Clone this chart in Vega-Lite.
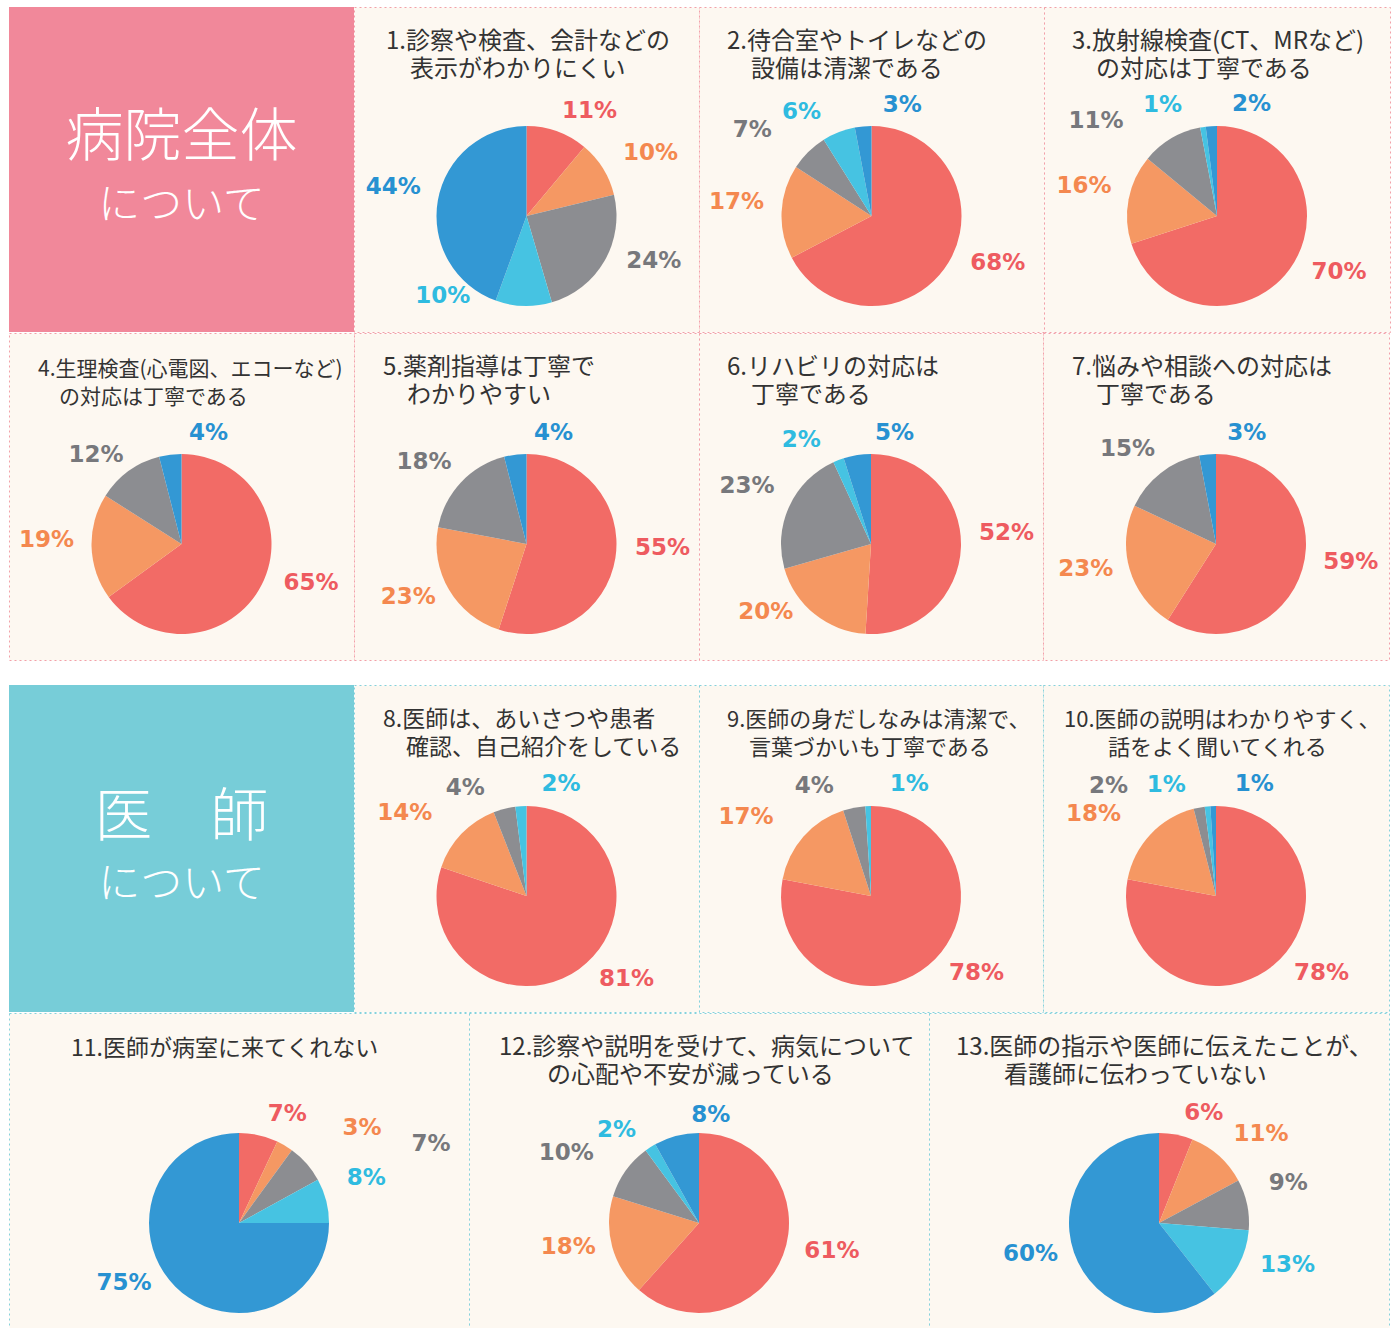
{
"$schema": "https://vega.github.io/schema/vega-lite/v6.json",
"background": "#ffffff",
"padding": {"left": 8, "top": 6, "right": 0, "bottom": 0},
"spacing": -2,
"config": {
  "view": {"stroke": null},
  "concat": {"spacing": 0},
  "range": {"category": ["#f26b66", "#f59863", "#8c8d91", "#46c3e2", "#3398d4"]},
  "title": {"font": "Noto Sans CJK JP", "fontSize": 24, "fontWeight": "normal", "color": "#333333", "anchor": "start", "frame": "group", "baseline": "top", "lineHeight": 28, "offset": -75},
  "text": {"font": "DejaVu Sans", "fontSize": 23, "fontWeight": "bold", "align": "center", "baseline": "middle"}
},
"datasets": {
  "pies": [
    {"q": 1, "cat": "A", "v": 0.11}, {"q": 1, "cat": "B", "v": 0.10}, {"q": 1, "cat": "C", "v": 0.24}, {"q": 1, "cat": "D", "v": 0.10}, {"q": 1, "cat": "E", "v": 0.44},
    {"q": 2, "cat": "A", "v": 0.68}, {"q": 2, "cat": "B", "v": 0.17}, {"q": 2, "cat": "C", "v": 0.07}, {"q": 2, "cat": "D", "v": 0.06}, {"q": 2, "cat": "E", "v": 0.03},
    {"q": 3, "cat": "A", "v": 0.70}, {"q": 3, "cat": "B", "v": 0.16}, {"q": 3, "cat": "C", "v": 0.11}, {"q": 3, "cat": "D", "v": 0.01}, {"q": 3, "cat": "E", "v": 0.02},
    {"q": 4, "cat": "A", "v": 0.65}, {"q": 4, "cat": "B", "v": 0.19}, {"q": 4, "cat": "C", "v": 0.12}, {"q": 4, "cat": "E", "v": 0.04},
    {"q": 5, "cat": "A", "v": 0.55}, {"q": 5, "cat": "B", "v": 0.23}, {"q": 5, "cat": "C", "v": 0.18}, {"q": 5, "cat": "E", "v": 0.04},
    {"q": 6, "cat": "A", "v": 0.52}, {"q": 6, "cat": "B", "v": 0.20}, {"q": 6, "cat": "C", "v": 0.23}, {"q": 6, "cat": "D", "v": 0.02}, {"q": 6, "cat": "E", "v": 0.05},
    {"q": 7, "cat": "A", "v": 0.59}, {"q": 7, "cat": "B", "v": 0.23}, {"q": 7, "cat": "C", "v": 0.15}, {"q": 7, "cat": "E", "v": 0.03},
    {"q": 8, "cat": "A", "v": 0.81}, {"q": 8, "cat": "B", "v": 0.14}, {"q": 8, "cat": "C", "v": 0.04}, {"q": 8, "cat": "D", "v": 0.02},
    {"q": 9, "cat": "A", "v": 0.78}, {"q": 9, "cat": "B", "v": 0.17}, {"q": 9, "cat": "C", "v": 0.04}, {"q": 9, "cat": "D", "v": 0.01},
    {"q": 10, "cat": "A", "v": 0.78}, {"q": 10, "cat": "B", "v": 0.18}, {"q": 10, "cat": "C", "v": 0.02}, {"q": 10, "cat": "D", "v": 0.01}, {"q": 10, "cat": "E", "v": 0.01},
    {"q": 11, "cat": "A", "v": 0.07}, {"q": 11, "cat": "B", "v": 0.03}, {"q": 11, "cat": "C", "v": 0.07}, {"q": 11, "cat": "D", "v": 0.08}, {"q": 11, "cat": "E", "v": 0.75},
    {"q": 12, "cat": "A", "v": 0.61}, {"q": 12, "cat": "B", "v": 0.18}, {"q": 12, "cat": "C", "v": 0.10}, {"q": 12, "cat": "D", "v": 0.02}, {"q": 12, "cat": "E", "v": 0.08},
    {"q": 13, "cat": "A", "v": 0.06}, {"q": 13, "cat": "B", "v": 0.11}, {"q": 13, "cat": "C", "v": 0.09}, {"q": 13, "cat": "D", "v": 0.13}, {"q": 13, "cat": "E", "v": 0.60}
  ]
},
"vconcat": [
  {"bounds": "flush", "hconcat": [
    {"width": 345, "height": 325, "view": {"fill": "#f1889a", "stroke": null},
     "data": {"values": [{"head": "病院全体", "sub": "について"}]},
     "layer": [
       {"mark": {"type": "text", "font": "Noto Sans CJK JP", "fontWeight": 300, "fontSize": 58, "color": "#ffffff", "dy": -31}, "encoding": {"text": {"field": "head"}}},
       {"mark": {"type": "text", "font": "Noto Sans CJK JP", "fontWeight": 300, "fontSize": 42, "color": "#ffffff", "dy": 36}, "encoding": {"text": {"field": "sub"}}}
     ]},
    {"width": 345, "height": 325, "view": {"fill": "#fdf8f1", "stroke": "#f2a0a9", "strokeDash": [2, 3]},
     "title": {"text": ["1.診察や検査、会計などの", "\u200b　表示がわかりにくい"], "dx": 32},
     "data": {"name": "pies"},
     "transform": [{"filter": "datum.q == 1"}, {"window": [{"op": "sum", "field": "v", "as": "cum"}, {"op": "row_number", "as": "idx"}], "sort": [{"field": "cat", "order": "ascending"}]}, {"joinaggregate": [{"op": "sum", "field": "v", "as": "tot"}, {"op": "count", "field": "v", "as": "n"}]}],
     "encoding": {"theta": {"field": "v", "type": "quantitative", "stack": true}, "order": {"field": "cat", "type": "nominal", "sort": "ascending"}, "color": {"field": "cat", "type": "nominal", "legend": null, "scale": {"domain": ["A", "B", "C", "D", "E"]}}},
     "resolve": {"scale": {"color": "independent"}},
     "layer": [
       {"mark": {"type": "arc", "outerRadius": 90, "yOffset": 46.5}},
       {"mark": {"type": "text", "radius": 120, "yOffset": 46.5,
          "dx": {"expr": "datum.idx==datum.n && (datum.cum-datum.v/2)/datum.tot>0.9 ? 42 : datum.idx==datum.n-2 && (datum.cum-datum.v/2)/datum.tot>0.95 ? -85 : datum.idx==datum.n-2 && (datum.cum-datum.v/2)/datum.tot>0.9 ? -60 : datum.idx==datum.n-1 && (datum.cum-datum.v/2)/datum.tot>0.84 ? -15-max(0,(datum.cum-datum.v/2)/datum.tot-0.9)*275 : (datum.cum-datum.v/2)/datum.tot>0.84 ? -35 : abs((datum.cum-datum.v/2)/datum.tot-0.5)<0.05 ? -80 : (datum.cum-datum.v/2)/datum.tot<0.2 ? (datum.v<0.09 ? 22+40*(datum.idx-1) : 22) : (datum.cum-datum.v/2)/datum.tot<0.45 ? 20+100*((datum.cum-datum.v/2)/datum.tot-0.3) : (datum.cum-datum.v/2)/datum.tot<0.65 ? -30 : -15"},
          "dy": {"expr": "abs((datum.cum-datum.v/2)/datum.tot-0.5)<0.05 ? -40 : ((datum.cum-datum.v/2)/datum.tot>0.9 || (datum.cum-datum.v/2)/datum.tot<0.1) ? 8 : ((datum.cum-datum.v/2)/datum.tot>0.2 && (datum.cum-datum.v/2)/datum.tot<0.45) ? -15 : ((datum.cum-datum.v/2)/datum.tot>0.55 && (datum.cum-datum.v/2)/datum.tot<0.65) ? -25 : ((datum.cum-datum.v/2)/datum.tot>=0.65 && (datum.cum-datum.v/2)/datum.tot<0.84) ? -8 : 0"}},
        "encoding": {"text": {"field": "v", "format": ".0%"}, "color": {"field": "cat", "type": "nominal", "legend": null, "scale": {"domain": ["A", "B", "C", "D", "E"], "range": ["#ee5b60", "#f4884f", "#77787c", "#2fbbe0", "#2791d1"]}}}}
     ]},
    {"width": 345, "height": 325, "view": {"fill": "#fdf8f1", "stroke": "#f2a0a9", "strokeDash": [2, 3]},
     "title": {"text": ["2.待合室やトイレなどの", "\u200b　設備は清潔である"], "dx": 28},
     "data": {"name": "pies"},
     "transform": [{"filter": "datum.q == 2"}, {"window": [{"op": "sum", "field": "v", "as": "cum"}, {"op": "row_number", "as": "idx"}], "sort": [{"field": "cat", "order": "ascending"}]}, {"joinaggregate": [{"op": "sum", "field": "v", "as": "tot"}, {"op": "count", "field": "v", "as": "n"}]}],
     "encoding": {"theta": {"field": "v", "type": "quantitative", "stack": true}, "order": {"field": "cat", "type": "nominal", "sort": "ascending"}, "color": {"field": "cat", "type": "nominal", "legend": null, "scale": {"domain": ["A", "B", "C", "D", "E"]}}},
     "resolve": {"scale": {"color": "independent"}},
     "layer": [
       {"mark": {"type": "arc", "outerRadius": 90, "yOffset": 46.5}},
       {"mark": {"type": "text", "radius": 120, "yOffset": 46.5,
          "dx": {"expr": "datum.idx==datum.n && (datum.cum-datum.v/2)/datum.tot>0.9 ? 42 : datum.idx==datum.n-2 && (datum.cum-datum.v/2)/datum.tot>0.95 ? -85 : datum.idx==datum.n-2 && (datum.cum-datum.v/2)/datum.tot>0.9 ? -60 : datum.idx==datum.n-1 && (datum.cum-datum.v/2)/datum.tot>0.84 ? -15-max(0,(datum.cum-datum.v/2)/datum.tot-0.9)*275 : (datum.cum-datum.v/2)/datum.tot>0.84 ? -35 : abs((datum.cum-datum.v/2)/datum.tot-0.5)<0.05 ? -80 : (datum.cum-datum.v/2)/datum.tot<0.2 ? (datum.v<0.09 ? 22+40*(datum.idx-1) : 22) : (datum.cum-datum.v/2)/datum.tot<0.45 ? 20+100*((datum.cum-datum.v/2)/datum.tot-0.3) : (datum.cum-datum.v/2)/datum.tot<0.65 ? -30 : -15"},
          "dy": {"expr": "abs((datum.cum-datum.v/2)/datum.tot-0.5)<0.05 ? -40 : ((datum.cum-datum.v/2)/datum.tot>0.9 || (datum.cum-datum.v/2)/datum.tot<0.1) ? 8 : ((datum.cum-datum.v/2)/datum.tot>0.2 && (datum.cum-datum.v/2)/datum.tot<0.45) ? -15 : ((datum.cum-datum.v/2)/datum.tot>0.55 && (datum.cum-datum.v/2)/datum.tot<0.65) ? -25 : ((datum.cum-datum.v/2)/datum.tot>=0.65 && (datum.cum-datum.v/2)/datum.tot<0.84) ? -8 : 0"}},
        "encoding": {"text": {"field": "v", "format": ".0%"}, "color": {"field": "cat", "type": "nominal", "legend": null, "scale": {"domain": ["A", "B", "C", "D", "E"], "range": ["#ee5b60", "#f4884f", "#77787c", "#2fbbe0", "#2791d1"]}}}}
     ]},
    {"width": 346, "height": 325, "view": {"fill": "#fdf8f1", "stroke": "#f2a0a9", "strokeDash": [2, 3]},
     "title": {"text": ["3.放射線検査(CT、MRなど)", "\u200b　の対応は丁寧である"], "dx": 28},
     "data": {"name": "pies"},
     "transform": [{"filter": "datum.q == 3"}, {"window": [{"op": "sum", "field": "v", "as": "cum"}, {"op": "row_number", "as": "idx"}], "sort": [{"field": "cat", "order": "ascending"}]}, {"joinaggregate": [{"op": "sum", "field": "v", "as": "tot"}, {"op": "count", "field": "v", "as": "n"}]}],
     "encoding": {"theta": {"field": "v", "type": "quantitative", "stack": true}, "order": {"field": "cat", "type": "nominal", "sort": "ascending"}, "color": {"field": "cat", "type": "nominal", "legend": null, "scale": {"domain": ["A", "B", "C", "D", "E"]}}},
     "resolve": {"scale": {"color": "independent"}},
     "layer": [
       {"mark": {"type": "arc", "outerRadius": 90, "yOffset": 46.5}},
       {"mark": {"type": "text", "radius": 120, "yOffset": 46.5,
          "dx": {"expr": "datum.idx==datum.n && (datum.cum-datum.v/2)/datum.tot>0.9 ? 42 : datum.idx==datum.n-2 && (datum.cum-datum.v/2)/datum.tot>0.95 ? -85 : datum.idx==datum.n-2 && (datum.cum-datum.v/2)/datum.tot>0.9 ? -60 : datum.idx==datum.n-1 && (datum.cum-datum.v/2)/datum.tot>0.84 ? -15-max(0,(datum.cum-datum.v/2)/datum.tot-0.9)*275 : (datum.cum-datum.v/2)/datum.tot>0.84 ? -35 : abs((datum.cum-datum.v/2)/datum.tot-0.5)<0.05 ? -80 : (datum.cum-datum.v/2)/datum.tot<0.2 ? (datum.v<0.09 ? 22+40*(datum.idx-1) : 22) : (datum.cum-datum.v/2)/datum.tot<0.45 ? 20+100*((datum.cum-datum.v/2)/datum.tot-0.3) : (datum.cum-datum.v/2)/datum.tot<0.65 ? -30 : -15"},
          "dy": {"expr": "abs((datum.cum-datum.v/2)/datum.tot-0.5)<0.05 ? -40 : ((datum.cum-datum.v/2)/datum.tot>0.9 || (datum.cum-datum.v/2)/datum.tot<0.1) ? 8 : ((datum.cum-datum.v/2)/datum.tot>0.2 && (datum.cum-datum.v/2)/datum.tot<0.45) ? -15 : ((datum.cum-datum.v/2)/datum.tot>0.55 && (datum.cum-datum.v/2)/datum.tot<0.65) ? -25 : ((datum.cum-datum.v/2)/datum.tot>=0.65 && (datum.cum-datum.v/2)/datum.tot<0.84) ? -8 : 0"}},
        "encoding": {"text": {"field": "v", "format": ".0%"}, "color": {"field": "cat", "type": "nominal", "legend": null, "scale": {"domain": ["A", "B", "C", "D", "E"], "range": ["#ee5b60", "#f4884f", "#77787c", "#2fbbe0", "#2791d1"]}}}}
     ]}
  ]},
  {"bounds": "flush", "hconcat": [
    {"width": 345, "height": 327, "view": {"fill": "#fdf8f1", "stroke": "#f2a0a9", "strokeDash": [2, 3]},
     "title": {"text": ["4.生理検査(心電図、エコーなど)", "\u200b　の対応は丁寧である"], "dx": 29, "fontSize": 21},
     "data": {"name": "pies"},
     "transform": [{"filter": "datum.q == 4"}, {"window": [{"op": "sum", "field": "v", "as": "cum"}, {"op": "row_number", "as": "idx"}], "sort": [{"field": "cat", "order": "ascending"}]}, {"joinaggregate": [{"op": "sum", "field": "v", "as": "tot"}, {"op": "count", "field": "v", "as": "n"}]}],
     "encoding": {"theta": {"field": "v", "type": "quantitative", "stack": true}, "order": {"field": "cat", "type": "nominal", "sort": "ascending"}, "color": {"field": "cat", "type": "nominal", "legend": null, "scale": {"domain": ["A", "B", "C", "D", "E"]}}},
     "resolve": {"scale": {"color": "independent"}},
     "layer": [
       {"mark": {"type": "arc", "outerRadius": 90, "yOffset": 47.5}},
       {"mark": {"type": "text", "radius": 120, "yOffset": 47.5,
          "dx": {"expr": "datum.idx==datum.n && (datum.cum-datum.v/2)/datum.tot>0.9 ? 42 : datum.idx==datum.n-2 && (datum.cum-datum.v/2)/datum.tot>0.95 ? -85 : datum.idx==datum.n-2 && (datum.cum-datum.v/2)/datum.tot>0.9 ? -60 : datum.idx==datum.n-1 && (datum.cum-datum.v/2)/datum.tot>0.84 ? -15-max(0,(datum.cum-datum.v/2)/datum.tot-0.9)*275 : (datum.cum-datum.v/2)/datum.tot>0.84 ? -35 : abs((datum.cum-datum.v/2)/datum.tot-0.5)<0.05 ? -80 : (datum.cum-datum.v/2)/datum.tot<0.2 ? (datum.v<0.09 ? 22+40*(datum.idx-1) : 22) : (datum.cum-datum.v/2)/datum.tot<0.45 ? 20+100*((datum.cum-datum.v/2)/datum.tot-0.3) : (datum.cum-datum.v/2)/datum.tot<0.65 ? -30 : -15"},
          "dy": {"expr": "abs((datum.cum-datum.v/2)/datum.tot-0.5)<0.05 ? -40 : ((datum.cum-datum.v/2)/datum.tot>0.9 || (datum.cum-datum.v/2)/datum.tot<0.1) ? 8 : ((datum.cum-datum.v/2)/datum.tot>0.2 && (datum.cum-datum.v/2)/datum.tot<0.45) ? -15 : ((datum.cum-datum.v/2)/datum.tot>0.55 && (datum.cum-datum.v/2)/datum.tot<0.65) ? -25 : ((datum.cum-datum.v/2)/datum.tot>=0.65 && (datum.cum-datum.v/2)/datum.tot<0.84) ? -8 : 0"}},
        "encoding": {"text": {"field": "v", "format": ".0%"}, "color": {"field": "cat", "type": "nominal", "legend": null, "scale": {"domain": ["A", "B", "C", "D", "E"], "range": ["#ee5b60", "#f4884f", "#77787c", "#2fbbe0", "#2791d1"]}}}}
     ]},
    {"width": 345, "height": 327, "view": {"fill": "#fdf8f1", "stroke": "#f2a0a9", "strokeDash": [2, 3]},
     "title": {"text": ["5.薬剤指導は丁寧で", "\u200b　わかりやすい"], "dx": 29},
     "data": {"name": "pies"},
     "transform": [{"filter": "datum.q == 5"}, {"window": [{"op": "sum", "field": "v", "as": "cum"}, {"op": "row_number", "as": "idx"}], "sort": [{"field": "cat", "order": "ascending"}]}, {"joinaggregate": [{"op": "sum", "field": "v", "as": "tot"}, {"op": "count", "field": "v", "as": "n"}]}],
     "encoding": {"theta": {"field": "v", "type": "quantitative", "stack": true}, "order": {"field": "cat", "type": "nominal", "sort": "ascending"}, "color": {"field": "cat", "type": "nominal", "legend": null, "scale": {"domain": ["A", "B", "C", "D", "E"]}}},
     "resolve": {"scale": {"color": "independent"}},
     "layer": [
       {"mark": {"type": "arc", "outerRadius": 90, "yOffset": 47.5}},
       {"mark": {"type": "text", "radius": 120, "yOffset": 47.5,
          "dx": {"expr": "datum.idx==datum.n && (datum.cum-datum.v/2)/datum.tot>0.9 ? 42 : datum.idx==datum.n-2 && (datum.cum-datum.v/2)/datum.tot>0.95 ? -85 : datum.idx==datum.n-2 && (datum.cum-datum.v/2)/datum.tot>0.9 ? -60 : datum.idx==datum.n-1 && (datum.cum-datum.v/2)/datum.tot>0.84 ? -15-max(0,(datum.cum-datum.v/2)/datum.tot-0.9)*275 : (datum.cum-datum.v/2)/datum.tot>0.84 ? -35 : abs((datum.cum-datum.v/2)/datum.tot-0.5)<0.05 ? -80 : (datum.cum-datum.v/2)/datum.tot<0.2 ? (datum.v<0.09 ? 22+40*(datum.idx-1) : 22) : (datum.cum-datum.v/2)/datum.tot<0.45 ? 20+100*((datum.cum-datum.v/2)/datum.tot-0.3) : (datum.cum-datum.v/2)/datum.tot<0.65 ? -30 : -15"},
          "dy": {"expr": "abs((datum.cum-datum.v/2)/datum.tot-0.5)<0.05 ? -40 : ((datum.cum-datum.v/2)/datum.tot>0.9 || (datum.cum-datum.v/2)/datum.tot<0.1) ? 8 : ((datum.cum-datum.v/2)/datum.tot>0.2 && (datum.cum-datum.v/2)/datum.tot<0.45) ? -15 : ((datum.cum-datum.v/2)/datum.tot>0.55 && (datum.cum-datum.v/2)/datum.tot<0.65) ? -25 : ((datum.cum-datum.v/2)/datum.tot>=0.65 && (datum.cum-datum.v/2)/datum.tot<0.84) ? -8 : 0"}},
        "encoding": {"text": {"field": "v", "format": ".0%"}, "color": {"field": "cat", "type": "nominal", "legend": null, "scale": {"domain": ["A", "B", "C", "D", "E"], "range": ["#ee5b60", "#f4884f", "#77787c", "#2fbbe0", "#2791d1"]}}}}
     ]},
    {"width": 344, "height": 327, "view": {"fill": "#fdf8f1", "stroke": "#f2a0a9", "strokeDash": [2, 3]},
     "title": {"text": ["6.リハビリの対応は", "\u200b　丁寧である"], "dx": 28},
     "data": {"name": "pies"},
     "transform": [{"filter": "datum.q == 6"}, {"window": [{"op": "sum", "field": "v", "as": "cum"}, {"op": "row_number", "as": "idx"}], "sort": [{"field": "cat", "order": "ascending"}]}, {"joinaggregate": [{"op": "sum", "field": "v", "as": "tot"}, {"op": "count", "field": "v", "as": "n"}]}],
     "encoding": {"theta": {"field": "v", "type": "quantitative", "stack": true}, "order": {"field": "cat", "type": "nominal", "sort": "ascending"}, "color": {"field": "cat", "type": "nominal", "legend": null, "scale": {"domain": ["A", "B", "C", "D", "E"]}}},
     "resolve": {"scale": {"color": "independent"}},
     "layer": [
       {"mark": {"type": "arc", "outerRadius": 90, "yOffset": 47.5}},
       {"mark": {"type": "text", "radius": 120, "yOffset": 47.5,
          "dx": {"expr": "datum.idx==datum.n && (datum.cum-datum.v/2)/datum.tot>0.9 ? 42 : datum.idx==datum.n-2 && (datum.cum-datum.v/2)/datum.tot>0.95 ? -85 : datum.idx==datum.n-2 && (datum.cum-datum.v/2)/datum.tot>0.9 ? -60 : datum.idx==datum.n-1 && (datum.cum-datum.v/2)/datum.tot>0.84 ? -15-max(0,(datum.cum-datum.v/2)/datum.tot-0.9)*275 : (datum.cum-datum.v/2)/datum.tot>0.84 ? -35 : abs((datum.cum-datum.v/2)/datum.tot-0.5)<0.05 ? -80 : (datum.cum-datum.v/2)/datum.tot<0.2 ? (datum.v<0.09 ? 22+40*(datum.idx-1) : 22) : (datum.cum-datum.v/2)/datum.tot<0.45 ? 20+100*((datum.cum-datum.v/2)/datum.tot-0.3) : (datum.cum-datum.v/2)/datum.tot<0.65 ? -30 : -15"},
          "dy": {"expr": "abs((datum.cum-datum.v/2)/datum.tot-0.5)<0.05 ? -40 : ((datum.cum-datum.v/2)/datum.tot>0.9 || (datum.cum-datum.v/2)/datum.tot<0.1) ? 8 : ((datum.cum-datum.v/2)/datum.tot>0.2 && (datum.cum-datum.v/2)/datum.tot<0.45) ? -15 : ((datum.cum-datum.v/2)/datum.tot>0.55 && (datum.cum-datum.v/2)/datum.tot<0.65) ? -25 : ((datum.cum-datum.v/2)/datum.tot>=0.65 && (datum.cum-datum.v/2)/datum.tot<0.84) ? -8 : 0"}},
        "encoding": {"text": {"field": "v", "format": ".0%"}, "color": {"field": "cat", "type": "nominal", "legend": null, "scale": {"domain": ["A", "B", "C", "D", "E"], "range": ["#ee5b60", "#f4884f", "#77787c", "#2fbbe0", "#2791d1"]}}}}
     ]},
    {"width": 346, "height": 327, "view": {"fill": "#fdf8f1", "stroke": "#f2a0a9", "strokeDash": [2, 3]},
     "title": {"text": ["7.悩みや相談への対応は", "\u200b　丁寧である"], "dx": 29},
     "data": {"name": "pies"},
     "transform": [{"filter": "datum.q == 7"}, {"window": [{"op": "sum", "field": "v", "as": "cum"}, {"op": "row_number", "as": "idx"}], "sort": [{"field": "cat", "order": "ascending"}]}, {"joinaggregate": [{"op": "sum", "field": "v", "as": "tot"}, {"op": "count", "field": "v", "as": "n"}]}],
     "encoding": {"theta": {"field": "v", "type": "quantitative", "stack": true}, "order": {"field": "cat", "type": "nominal", "sort": "ascending"}, "color": {"field": "cat", "type": "nominal", "legend": null, "scale": {"domain": ["A", "B", "C", "D", "E"]}}},
     "resolve": {"scale": {"color": "independent"}},
     "layer": [
       {"mark": {"type": "arc", "outerRadius": 90, "yOffset": 47.5}},
       {"mark": {"type": "text", "radius": 120, "yOffset": 47.5,
          "dx": {"expr": "datum.idx==datum.n && (datum.cum-datum.v/2)/datum.tot>0.9 ? 42 : datum.idx==datum.n-2 && (datum.cum-datum.v/2)/datum.tot>0.95 ? -85 : datum.idx==datum.n-2 && (datum.cum-datum.v/2)/datum.tot>0.9 ? -60 : datum.idx==datum.n-1 && (datum.cum-datum.v/2)/datum.tot>0.84 ? -15-max(0,(datum.cum-datum.v/2)/datum.tot-0.9)*275 : (datum.cum-datum.v/2)/datum.tot>0.84 ? -35 : abs((datum.cum-datum.v/2)/datum.tot-0.5)<0.05 ? -80 : (datum.cum-datum.v/2)/datum.tot<0.2 ? (datum.v<0.09 ? 22+40*(datum.idx-1) : 22) : (datum.cum-datum.v/2)/datum.tot<0.45 ? 20+100*((datum.cum-datum.v/2)/datum.tot-0.3) : (datum.cum-datum.v/2)/datum.tot<0.65 ? -30 : -15"},
          "dy": {"expr": "abs((datum.cum-datum.v/2)/datum.tot-0.5)<0.05 ? -40 : ((datum.cum-datum.v/2)/datum.tot>0.9 || (datum.cum-datum.v/2)/datum.tot<0.1) ? 8 : ((datum.cum-datum.v/2)/datum.tot>0.2 && (datum.cum-datum.v/2)/datum.tot<0.45) ? -15 : ((datum.cum-datum.v/2)/datum.tot>0.55 && (datum.cum-datum.v/2)/datum.tot<0.65) ? -25 : ((datum.cum-datum.v/2)/datum.tot>=0.65 && (datum.cum-datum.v/2)/datum.tot<0.84) ? -8 : 0"}},
        "encoding": {"text": {"field": "v", "format": ".0%"}, "color": {"field": "cat", "type": "nominal", "legend": null, "scale": {"domain": ["A", "B", "C", "D", "E"], "range": ["#ee5b60", "#f4884f", "#77787c", "#2fbbe0", "#2791d1"]}}}}
     ]}
  ]},
  {"width": 1380, "height": 24, "data": {"values": [{"blank": ""}]}, "mark": {"type": "text"}, "encoding": {"text": {"field": "blank"}}},
  {"bounds": "flush", "hconcat": [
    {"width": 345, "height": 327, "view": {"fill": "#77cdd8", "stroke": null},
     "data": {"values": [{"head": "医　師", "sub": "について"}]},
     "layer": [
       {"mark": {"type": "text", "font": "Noto Sans CJK JP", "fontWeight": 300, "fontSize": 58, "color": "#ffffff", "dy": -30}, "encoding": {"text": {"field": "head"}}},
       {"mark": {"type": "text", "font": "Noto Sans CJK JP", "fontWeight": 300, "fontSize": 42, "color": "#ffffff", "dy": 36}, "encoding": {"text": {"field": "sub"}}}
     ]},
    {"width": 345, "height": 327, "view": {"fill": "#fdf8f1", "stroke": "#86d2dc", "strokeDash": [2, 3]},
     "title": {"text": ["8.医師は、あいさつや患者", "\u200b　確認、自己紹介をしている"], "dx": 29, "fontSize": 23},
     "data": {"name": "pies"},
     "transform": [{"filter": "datum.q == 8"}, {"window": [{"op": "sum", "field": "v", "as": "cum"}, {"op": "row_number", "as": "idx"}], "sort": [{"field": "cat", "order": "ascending"}]}, {"joinaggregate": [{"op": "sum", "field": "v", "as": "tot"}, {"op": "count", "field": "v", "as": "n"}]}],
     "encoding": {"theta": {"field": "v", "type": "quantitative", "stack": true}, "order": {"field": "cat", "type": "nominal", "sort": "ascending"}, "color": {"field": "cat", "type": "nominal", "legend": null, "scale": {"domain": ["A", "B", "C", "D", "E"]}}},
     "resolve": {"scale": {"color": "independent"}},
     "layer": [
       {"mark": {"type": "arc", "outerRadius": 90, "yOffset": 47.5}},
       {"mark": {"type": "text", "radius": 120, "yOffset": 47.5,
          "dx": {"expr": "datum.idx==datum.n && (datum.cum-datum.v/2)/datum.tot>0.9 ? 42 : datum.idx==datum.n-2 && (datum.cum-datum.v/2)/datum.tot>0.95 ? -85 : datum.idx==datum.n-2 && (datum.cum-datum.v/2)/datum.tot>0.9 ? -60 : datum.idx==datum.n-1 && (datum.cum-datum.v/2)/datum.tot>0.84 ? -15-max(0,(datum.cum-datum.v/2)/datum.tot-0.9)*275 : (datum.cum-datum.v/2)/datum.tot>0.84 ? -35 : abs((datum.cum-datum.v/2)/datum.tot-0.5)<0.05 ? -80 : (datum.cum-datum.v/2)/datum.tot<0.2 ? (datum.v<0.09 ? 22+40*(datum.idx-1) : 22) : (datum.cum-datum.v/2)/datum.tot<0.45 ? 20+100*((datum.cum-datum.v/2)/datum.tot-0.3) : (datum.cum-datum.v/2)/datum.tot<0.65 ? -30 : -15"},
          "dy": {"expr": "abs((datum.cum-datum.v/2)/datum.tot-0.5)<0.05 ? -40 : ((datum.cum-datum.v/2)/datum.tot>0.9 || (datum.cum-datum.v/2)/datum.tot<0.1) ? 8 : ((datum.cum-datum.v/2)/datum.tot>0.2 && (datum.cum-datum.v/2)/datum.tot<0.45) ? -15 : ((datum.cum-datum.v/2)/datum.tot>0.55 && (datum.cum-datum.v/2)/datum.tot<0.65) ? -25 : ((datum.cum-datum.v/2)/datum.tot>=0.65 && (datum.cum-datum.v/2)/datum.tot<0.84) ? -8 : 0"}},
        "encoding": {"text": {"field": "v", "format": ".0%"}, "color": {"field": "cat", "type": "nominal", "legend": null, "scale": {"domain": ["A", "B", "C", "D", "E"], "range": ["#ee5b60", "#f4884f", "#77787c", "#2fbbe0", "#2791d1"]}}}}
     ]},
    {"width": 344, "height": 327, "view": {"fill": "#fdf8f1", "stroke": "#86d2dc", "strokeDash": [2, 3]},
     "title": {"text": ["9.医師の身だしなみは清潔で、", "\u200b　言葉づかいも丁寧である"], "dx": 28, "fontSize": 22},
     "data": {"name": "pies"},
     "transform": [{"filter": "datum.q == 9"}, {"window": [{"op": "sum", "field": "v", "as": "cum"}, {"op": "row_number", "as": "idx"}], "sort": [{"field": "cat", "order": "ascending"}]}, {"joinaggregate": [{"op": "sum", "field": "v", "as": "tot"}, {"op": "count", "field": "v", "as": "n"}]}],
     "encoding": {"theta": {"field": "v", "type": "quantitative", "stack": true}, "order": {"field": "cat", "type": "nominal", "sort": "ascending"}, "color": {"field": "cat", "type": "nominal", "legend": null, "scale": {"domain": ["A", "B", "C", "D", "E"]}}},
     "resolve": {"scale": {"color": "independent"}},
     "layer": [
       {"mark": {"type": "arc", "outerRadius": 90, "yOffset": 47.5}},
       {"mark": {"type": "text", "radius": 120, "yOffset": 47.5,
          "dx": {"expr": "datum.idx==datum.n && (datum.cum-datum.v/2)/datum.tot>0.9 ? 42 : datum.idx==datum.n-2 && (datum.cum-datum.v/2)/datum.tot>0.95 ? -85 : datum.idx==datum.n-2 && (datum.cum-datum.v/2)/datum.tot>0.9 ? -60 : datum.idx==datum.n-1 && (datum.cum-datum.v/2)/datum.tot>0.84 ? -15-max(0,(datum.cum-datum.v/2)/datum.tot-0.9)*275 : (datum.cum-datum.v/2)/datum.tot>0.84 ? -35 : abs((datum.cum-datum.v/2)/datum.tot-0.5)<0.05 ? -80 : (datum.cum-datum.v/2)/datum.tot<0.2 ? (datum.v<0.09 ? 22+40*(datum.idx-1) : 22) : (datum.cum-datum.v/2)/datum.tot<0.45 ? 20+100*((datum.cum-datum.v/2)/datum.tot-0.3) : (datum.cum-datum.v/2)/datum.tot<0.65 ? -30 : -15"},
          "dy": {"expr": "abs((datum.cum-datum.v/2)/datum.tot-0.5)<0.05 ? -40 : ((datum.cum-datum.v/2)/datum.tot>0.9 || (datum.cum-datum.v/2)/datum.tot<0.1) ? 8 : ((datum.cum-datum.v/2)/datum.tot>0.2 && (datum.cum-datum.v/2)/datum.tot<0.45) ? -15 : ((datum.cum-datum.v/2)/datum.tot>0.55 && (datum.cum-datum.v/2)/datum.tot<0.65) ? -25 : ((datum.cum-datum.v/2)/datum.tot>=0.65 && (datum.cum-datum.v/2)/datum.tot<0.84) ? -8 : 0"}},
        "encoding": {"text": {"field": "v", "format": ".0%"}, "color": {"field": "cat", "type": "nominal", "legend": null, "scale": {"domain": ["A", "B", "C", "D", "E"], "range": ["#ee5b60", "#f4884f", "#77787c", "#2fbbe0", "#2791d1"]}}}}
     ]},
    {"width": 346, "height": 327, "view": {"fill": "#fdf8f1", "stroke": "#86d2dc", "strokeDash": [2, 3]},
     "title": {"text": ["10.医師の説明はわかりやすく、", "\u200b　　話をよく聞いてくれる"], "dx": 21, "fontSize": 22},
     "data": {"name": "pies"},
     "transform": [{"filter": "datum.q == 10"}, {"window": [{"op": "sum", "field": "v", "as": "cum"}, {"op": "row_number", "as": "idx"}], "sort": [{"field": "cat", "order": "ascending"}]}, {"joinaggregate": [{"op": "sum", "field": "v", "as": "tot"}, {"op": "count", "field": "v", "as": "n"}]}],
     "encoding": {"theta": {"field": "v", "type": "quantitative", "stack": true}, "order": {"field": "cat", "type": "nominal", "sort": "ascending"}, "color": {"field": "cat", "type": "nominal", "legend": null, "scale": {"domain": ["A", "B", "C", "D", "E"]}}},
     "resolve": {"scale": {"color": "independent"}},
     "layer": [
       {"mark": {"type": "arc", "outerRadius": 90, "yOffset": 47.5}},
       {"mark": {"type": "text", "radius": 120, "yOffset": 47.5,
          "dx": {"expr": "datum.idx==datum.n && (datum.cum-datum.v/2)/datum.tot>0.9 ? 42 : datum.idx==datum.n-2 && (datum.cum-datum.v/2)/datum.tot>0.95 ? -85 : datum.idx==datum.n-2 && (datum.cum-datum.v/2)/datum.tot>0.9 ? -60 : datum.idx==datum.n-1 && (datum.cum-datum.v/2)/datum.tot>0.84 ? -15-max(0,(datum.cum-datum.v/2)/datum.tot-0.9)*275 : (datum.cum-datum.v/2)/datum.tot>0.84 ? -35 : abs((datum.cum-datum.v/2)/datum.tot-0.5)<0.05 ? -80 : (datum.cum-datum.v/2)/datum.tot<0.2 ? (datum.v<0.09 ? 22+40*(datum.idx-1) : 22) : (datum.cum-datum.v/2)/datum.tot<0.45 ? 20+100*((datum.cum-datum.v/2)/datum.tot-0.3) : (datum.cum-datum.v/2)/datum.tot<0.65 ? -30 : -15"},
          "dy": {"expr": "abs((datum.cum-datum.v/2)/datum.tot-0.5)<0.05 ? -40 : ((datum.cum-datum.v/2)/datum.tot>0.9 || (datum.cum-datum.v/2)/datum.tot<0.1) ? 8 : ((datum.cum-datum.v/2)/datum.tot>0.2 && (datum.cum-datum.v/2)/datum.tot<0.45) ? -15 : ((datum.cum-datum.v/2)/datum.tot>0.55 && (datum.cum-datum.v/2)/datum.tot<0.65) ? -25 : ((datum.cum-datum.v/2)/datum.tot>=0.65 && (datum.cum-datum.v/2)/datum.tot<0.84) ? -8 : 0"}},
        "encoding": {"text": {"field": "v", "format": ".0%"}, "color": {"field": "cat", "type": "nominal", "legend": null, "scale": {"domain": ["A", "B", "C", "D", "E"], "range": ["#ee5b60", "#f4884f", "#77787c", "#2fbbe0", "#2791d1"]}}}}
     ]}
  ]},
  {"bounds": "flush", "hconcat": [
    {"width": 460, "height": 316, "view": {"fill": "#fdf8f1", "stroke": "#86d2dc", "strokeDash": [2, 3]},
     "title": {"text": "11.医師が病室に来てくれない", "dx": 62, "fontSize": 23, "offset": -48},
     "data": {"name": "pies"},
     "transform": [{"filter": "datum.q == 11"}, {"window": [{"op": "sum", "field": "v", "as": "cum"}, {"op": "row_number", "as": "idx"}], "sort": [{"field": "cat", "order": "ascending"}]}, {"joinaggregate": [{"op": "sum", "field": "v", "as": "tot"}, {"op": "count", "field": "v", "as": "n"}]}],
     "encoding": {"theta": {"field": "v", "type": "quantitative", "stack": true}, "order": {"field": "cat", "type": "nominal", "sort": "ascending"}, "color": {"field": "cat", "type": "nominal", "legend": null, "scale": {"domain": ["A", "B", "C", "D", "E"]}}},
     "resolve": {"scale": {"color": "independent"}},
     "layer": [
       {"mark": {"type": "arc", "outerRadius": 90, "yOffset": 52}},
       {"mark": {"type": "text", "radius": 120, "yOffset": 52,
          "dx": {"expr": "datum.idx==datum.n && (datum.cum-datum.v/2)/datum.tot>0.9 ? 42 : datum.idx==datum.n-2 && (datum.cum-datum.v/2)/datum.tot>0.95 ? -85 : datum.idx==datum.n-2 && (datum.cum-datum.v/2)/datum.tot>0.9 ? -60 : datum.idx==datum.n-1 && (datum.cum-datum.v/2)/datum.tot>0.84 ? -15-max(0,(datum.cum-datum.v/2)/datum.tot-0.9)*275 : (datum.cum-datum.v/2)/datum.tot>0.84 ? -35 : abs((datum.cum-datum.v/2)/datum.tot-0.5)<0.05 ? -80 : (datum.cum-datum.v/2)/datum.tot<0.2 ? (datum.v<0.09 ? 22+40*(datum.idx-1) : 22) : (datum.cum-datum.v/2)/datum.tot<0.45 ? 20+100*((datum.cum-datum.v/2)/datum.tot-0.3) : (datum.cum-datum.v/2)/datum.tot<0.65 ? -30 : -15"},
          "dy": {"expr": "abs((datum.cum-datum.v/2)/datum.tot-0.5)<0.05 ? -40 : ((datum.cum-datum.v/2)/datum.tot>0.9 || (datum.cum-datum.v/2)/datum.tot<0.1) ? 8 : ((datum.cum-datum.v/2)/datum.tot>0.2 && (datum.cum-datum.v/2)/datum.tot<0.45) ? -15 : ((datum.cum-datum.v/2)/datum.tot>0.55 && (datum.cum-datum.v/2)/datum.tot<0.65) ? -25 : ((datum.cum-datum.v/2)/datum.tot>=0.65 && (datum.cum-datum.v/2)/datum.tot<0.84) ? -8 : 0"}},
        "encoding": {"text": {"field": "v", "format": ".0%"}, "color": {"field": "cat", "type": "nominal", "legend": null, "scale": {"domain": ["A", "B", "C", "D", "E"], "range": ["#ee5b60", "#f4884f", "#77787c", "#2fbbe0", "#2791d1"]}}}}
     ]},
    {"width": 460, "height": 316, "view": {"fill": "#fdf8f1", "stroke": "#86d2dc", "strokeDash": [2, 3]},
     "title": {"text": ["12.診察や説明を受けて、病気について", "\u200b　　の心配や不安が減っている"], "dx": 30},
     "data": {"name": "pies"},
     "transform": [{"filter": "datum.q == 12"}, {"window": [{"op": "sum", "field": "v", "as": "cum"}, {"op": "row_number", "as": "idx"}], "sort": [{"field": "cat", "order": "ascending"}]}, {"joinaggregate": [{"op": "sum", "field": "v", "as": "tot"}, {"op": "count", "field": "v", "as": "n"}]}],
     "encoding": {"theta": {"field": "v", "type": "quantitative", "stack": true}, "order": {"field": "cat", "type": "nominal", "sort": "ascending"}, "color": {"field": "cat", "type": "nominal", "legend": null, "scale": {"domain": ["A", "B", "C", "D", "E"]}}},
     "resolve": {"scale": {"color": "independent"}},
     "layer": [
       {"mark": {"type": "arc", "outerRadius": 90, "yOffset": 52}},
       {"mark": {"type": "text", "radius": 120, "yOffset": 52,
          "dx": {"expr": "datum.idx==datum.n && (datum.cum-datum.v/2)/datum.tot>0.9 ? 42 : datum.idx==datum.n-2 && (datum.cum-datum.v/2)/datum.tot>0.95 ? -85 : datum.idx==datum.n-2 && (datum.cum-datum.v/2)/datum.tot>0.9 ? -60 : datum.idx==datum.n-1 && (datum.cum-datum.v/2)/datum.tot>0.84 ? -15-max(0,(datum.cum-datum.v/2)/datum.tot-0.9)*275 : (datum.cum-datum.v/2)/datum.tot>0.84 ? -35 : abs((datum.cum-datum.v/2)/datum.tot-0.5)<0.05 ? -80 : (datum.cum-datum.v/2)/datum.tot<0.2 ? (datum.v<0.09 ? 22+40*(datum.idx-1) : 22) : (datum.cum-datum.v/2)/datum.tot<0.45 ? 20+100*((datum.cum-datum.v/2)/datum.tot-0.3) : (datum.cum-datum.v/2)/datum.tot<0.65 ? -30 : -15"},
          "dy": {"expr": "abs((datum.cum-datum.v/2)/datum.tot-0.5)<0.05 ? -40 : ((datum.cum-datum.v/2)/datum.tot>0.9 || (datum.cum-datum.v/2)/datum.tot<0.1) ? 8 : ((datum.cum-datum.v/2)/datum.tot>0.2 && (datum.cum-datum.v/2)/datum.tot<0.45) ? -15 : ((datum.cum-datum.v/2)/datum.tot>0.55 && (datum.cum-datum.v/2)/datum.tot<0.65) ? -25 : ((datum.cum-datum.v/2)/datum.tot>=0.65 && (datum.cum-datum.v/2)/datum.tot<0.84) ? -8 : 0"}},
        "encoding": {"text": {"field": "v", "format": ".0%"}, "color": {"field": "cat", "type": "nominal", "legend": null, "scale": {"domain": ["A", "B", "C", "D", "E"], "range": ["#ee5b60", "#f4884f", "#77787c", "#2fbbe0", "#2791d1"]}}}}
     ]},
    {"width": 460, "height": 316, "view": {"fill": "#fdf8f1", "stroke": "#86d2dc", "strokeDash": [2, 3]},
     "title": {"text": ["13.医師の指示や医師に伝えたことが、", "\u200b　　看護師に伝わっていない"], "dx": 27},
     "data": {"name": "pies"},
     "transform": [{"filter": "datum.q == 13"}, {"window": [{"op": "sum", "field": "v", "as": "cum"}, {"op": "row_number", "as": "idx"}], "sort": [{"field": "cat", "order": "ascending"}]}, {"joinaggregate": [{"op": "sum", "field": "v", "as": "tot"}, {"op": "count", "field": "v", "as": "n"}]}],
     "encoding": {"theta": {"field": "v", "type": "quantitative", "stack": true}, "order": {"field": "cat", "type": "nominal", "sort": "ascending"}, "color": {"field": "cat", "type": "nominal", "legend": null, "scale": {"domain": ["A", "B", "C", "D", "E"]}}},
     "resolve": {"scale": {"color": "independent"}},
     "layer": [
       {"mark": {"type": "arc", "outerRadius": 90, "yOffset": 52}},
       {"mark": {"type": "text", "radius": 120, "yOffset": 52,
          "dx": {"expr": "datum.idx==datum.n && (datum.cum-datum.v/2)/datum.tot>0.9 ? 42 : datum.idx==datum.n-2 && (datum.cum-datum.v/2)/datum.tot>0.95 ? -85 : datum.idx==datum.n-2 && (datum.cum-datum.v/2)/datum.tot>0.9 ? -60 : datum.idx==datum.n-1 && (datum.cum-datum.v/2)/datum.tot>0.84 ? -15-max(0,(datum.cum-datum.v/2)/datum.tot-0.9)*275 : (datum.cum-datum.v/2)/datum.tot>0.84 ? -35 : abs((datum.cum-datum.v/2)/datum.tot-0.5)<0.05 ? -80 : (datum.cum-datum.v/2)/datum.tot<0.2 ? (datum.v<0.09 ? 22+40*(datum.idx-1) : 22) : (datum.cum-datum.v/2)/datum.tot<0.45 ? 20+100*((datum.cum-datum.v/2)/datum.tot-0.3) : (datum.cum-datum.v/2)/datum.tot<0.65 ? -30 : -15"},
          "dy": {"expr": "abs((datum.cum-datum.v/2)/datum.tot-0.5)<0.05 ? -40 : ((datum.cum-datum.v/2)/datum.tot>0.9 || (datum.cum-datum.v/2)/datum.tot<0.1) ? 8 : ((datum.cum-datum.v/2)/datum.tot>0.2 && (datum.cum-datum.v/2)/datum.tot<0.45) ? -15 : ((datum.cum-datum.v/2)/datum.tot>0.55 && (datum.cum-datum.v/2)/datum.tot<0.65) ? -25 : ((datum.cum-datum.v/2)/datum.tot>=0.65 && (datum.cum-datum.v/2)/datum.tot<0.84) ? -8 : 0"}},
        "encoding": {"text": {"field": "v", "format": ".0%"}, "color": {"field": "cat", "type": "nominal", "legend": null, "scale": {"domain": ["A", "B", "C", "D", "E"], "range": ["#ee5b60", "#f4884f", "#77787c", "#2fbbe0", "#2791d1"]}}}}
     ]}
  ]}
]
}
